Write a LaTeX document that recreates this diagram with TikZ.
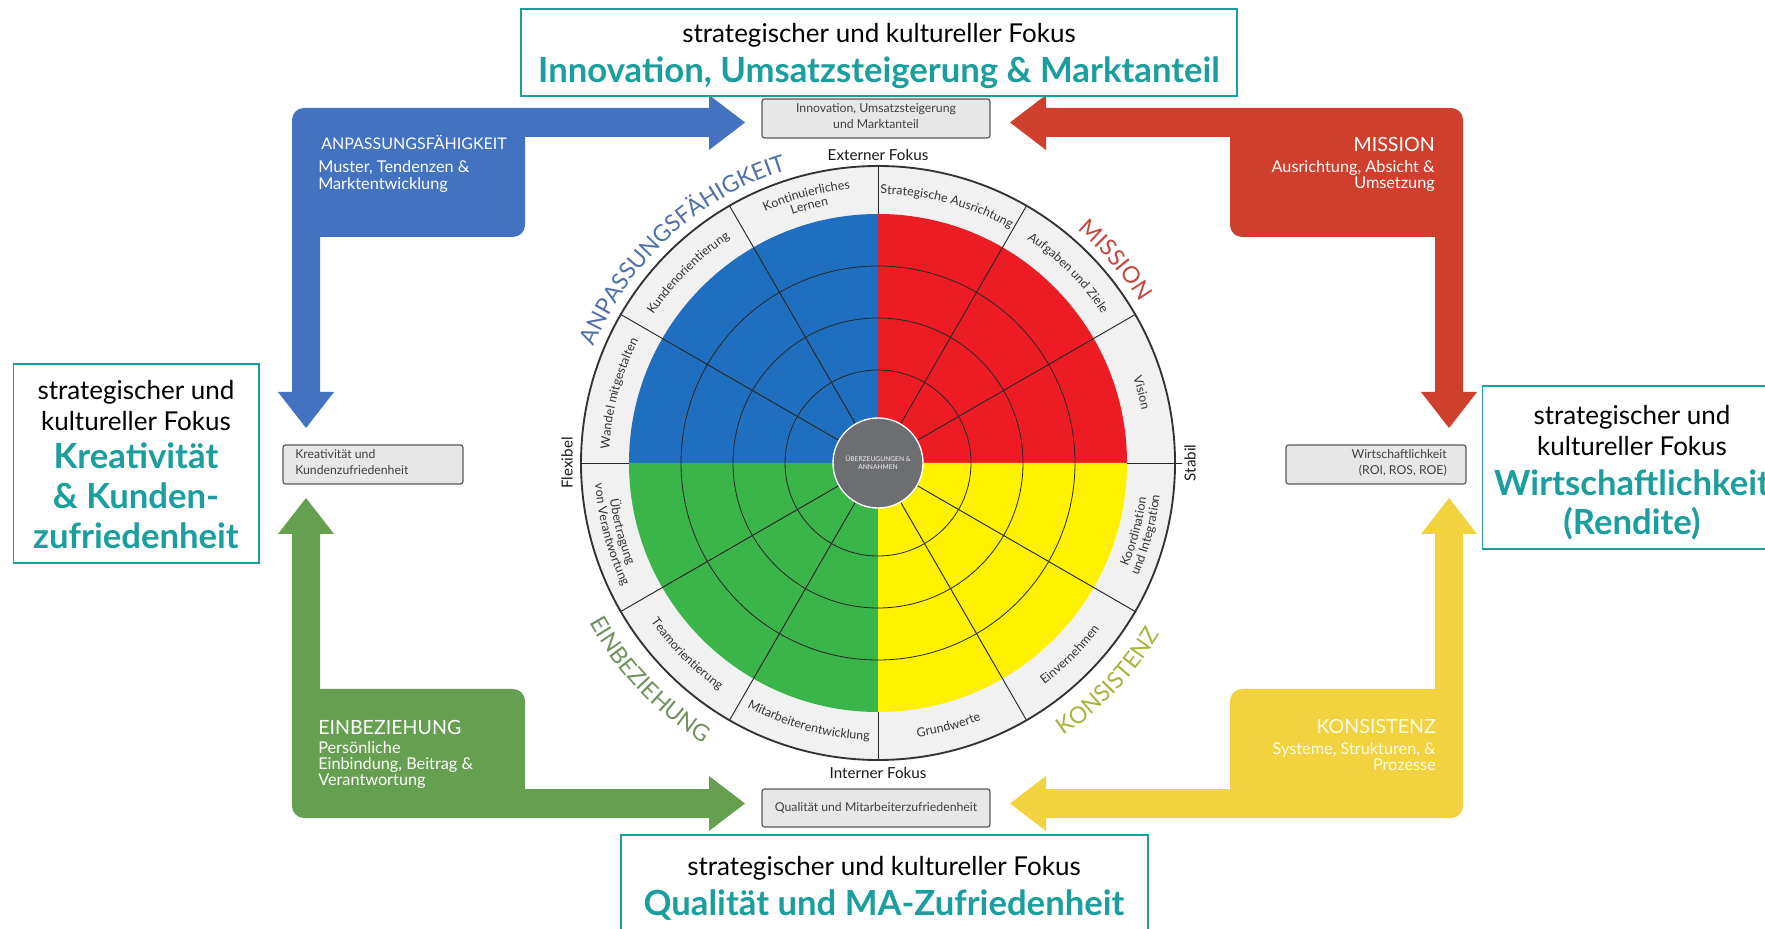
\documentclass[tikz,border=0pt]{standalone}
\usepackage{fontspec}
\setmainfont{Lato}
\usetikzlibrary{decorations.text}
\definecolor{qblue}{HTML}{1F6EC0}
\definecolor{qred}{HTML}{ED1C24}
\definecolor{qyellow}{HTML}{FFF200}
\definecolor{qgreen}{HTML}{39B54A}
\definecolor{ringfill}{HTML}{F1F1F2}
\definecolor{armblue}{HTML}{4272C0}
\definecolor{armred}{HTML}{D03E2D}
\definecolor{armgreen}{HTML}{64A04F}
\definecolor{armyellow}{HTML}{F3D23F}
\definecolor{tealc}{HTML}{1A9E9E}
\definecolor{lblblue}{HTML}{5070AA}
\definecolor{lblred}{HTML}{C4473A}
\definecolor{lblolive}{HTML}{A8B43C}
\definecolor{lblgreen}{HTML}{72915F}
\definecolor{boxfill}{HTML}{E7E7E7}
\definecolor{boxline}{HTML}{595959}
\definecolor{centergray}{HTML}{6D6E71}
\definecolor{ringtext}{HTML}{333333}
\newcommand\ringfont{\fontsize{9.3}{10}\selectfont\color{ringtext}}
\newcommand\quadfont{\fontsize{17.3}{20}\selectfont}
\newcommand\rlabtop[3]{\path[decorate,decoration={text along path,text align=center,text={|\ringfont|#3}}] (#1+45:#2) arc[start angle=#1+45,end angle=#1-45,radius=#2];}
\newcommand\rlabbot[3]{\path[decorate,decoration={text along path,text align=center,text={|\ringfont|#3}}] (#1-45:#2) arc[start angle=#1-45,end angle=#1+45,radius=#2];}
\newcommand\qlabtop[4]{\path[decorate,decoration={text along path,text align=center,text={|\quadfont\color{#3}|#4}}] (#1+60:#2) arc[start angle=#1+60,end angle=#1-60,radius=#2];}
\newcommand\qlabbot[4]{\path[decorate,decoration={text along path,text align=center,text={|\quadfont\color{#3}|#4}}] (#1-60:#2) arc[start angle=#1-60,end angle=#1+60,radius=#2];}
\begin{document}
\begin{tikzpicture}[x=0.75pt,y=0.75pt,
  tealbox/.style={draw=tealc,line width=1.2pt},
  tealreg/.style={font=\fontsize{19.5}{24}\selectfont,text=black,anchor=base,inner sep=0pt},
  tealbold/.style={font=\fontsize{26}{30}\selectfont\bfseries,text=tealc,anchor=base,inner sep=0pt},
  graybox/.style={draw=boxline,fill=boxfill,line width=0.9pt,rounded corners=2pt},
  graytext/.style={font=\fontsize{9.2}{11}\selectfont,text=black!75,inner sep=0pt,anchor=base},
  armtitle/.style={font=\fontsize{14.7}{17}\selectfont,text=white,inner sep=0pt},
  armtext/.style={font=\fontsize{12.2}{14}\selectfont,text=white,inner sep=0pt},
  fokus/.style={font=\fontsize{11.4}{13}\selectfont,text=black!90,inner sep=0pt},
  spoke/.style={draw=black!85,line width=0.7pt},
  ringline/.style={draw=black!85,line width=0.6pt}]
\useasboundingbox (0,0) rectangle (1765,928);
\fill[white] (0,0) rectangle (1765,928);

% L-shaped arrows
\foreach \sx/\sy/\col in {1/1/armblue,-1/1/armred,1/-1/armgreen,-1/-1/armyellow}{
  \begin{scope}[shift={(877.5,465)},xscale=\sx,yscale=\sy,shift={(-877.5,-465)}]
    \fill[\col] (292,536) -- (292,808) arc[start angle=180,end angle=90,radius=12]
      -- (709,820) -- (709,833) -- (745,805.5) -- (709,778) -- (709,791) -- (525,791)
      -- (525,703) arc[start angle=0,end angle=-90,radius=12]
      -- (320,691) -- (320,536) -- (334,536) -- (306,500) -- (278,536) -- cycle;
  \end{scope}
}

% arm texts
\node[armtitle,anchor=base west,font=\fontsize{12}{14}\selectfont] (tA) at (321,778) {ANPASSUNGSFÄHIGKEIT};
\node[armtext,anchor=base west] (tA1) at (318,755) {Muster, Tendenzen \&};
\node[armtext,anchor=base west] (tA2) at (318,738) {Marktentwicklung};
\node[armtitle,anchor=base east] (tM) at (1435,776) {MISSION};
\node[armtext,anchor=base east] (tM1) at (1435,755) {Ausrichtung, Absicht \&};
\node[armtext,anchor=base east] (tM2) at (1435,739) {Umsetzung};
\node[armtitle,anchor=base west] (tE) at (318,194) {EINBEZIEHUNG};
\node[armtext,anchor=base west] (tE1) at (318,175) {Persönliche};
\node[armtext,anchor=base west] (tE2) at (318,159) {Einbindung, Beitrag \&};
\node[armtext,anchor=base west] (tE3) at (318,143) {Verantwortung};
\node[armtitle,anchor=base east,text=white!90!yellow] (tK) at (1436,195) {KONSISTENZ};
\node[armtext,anchor=base east,text=white!90!yellow] (tK1) at (1436,174) {Systeme, Strukturen, \&};
\node[armtext,anchor=base east,text=white!90!yellow] (tK2) at (1436,158) {Prozesse};

% gray boxes
\node[graybox,minimum width=228*0.75pt,minimum height=39*0.75pt] (bTop) at (876,809.5) {};
\node[graytext] (bTop1) at (876,815) {Innovation, Umsatzsteigerung};
\node[graytext] (bTop2) at (876,799) {und Marktanteil};
\node[graybox,minimum width=228*0.75pt,minimum height=38*0.75pt] (bBot) at (876,120) {};
\node[graytext] (bBot1) at (876,116.5) {Qualität und Mitarbeiterzufriedenheit};
\node[graybox,minimum width=180*0.75pt,minimum height=39*0.75pt] (bLeft) at (373,463.5) {};
\node[graytext,anchor=base west] (bLeft1) at (295,469) {Kreativität und};
\node[graytext,anchor=base west] (bLeft2) at (295,453) {Kundenzufriedenheit};
\node[graybox,minimum width=180*0.75pt,minimum height=39*0.75pt] (bRight) at (1376,463.5) {};
\node[graytext,anchor=base east] (bRight1) at (1447,469) {Wirtschaftlichkeit};
\node[graytext,anchor=base east] (bRight2) at (1447,453) {(ROI, ROS, ROE)};

% wheel
\begin{scope}[shift={(878,465)}]
  \coordinate (C) at (0,0);
  \fill[ringfill] (C) circle[radius=297];
  \fill[qred] (C) -- (0:249) arc[start angle=0,end angle=90,radius=249] -- cycle;
  \fill[qblue] (C) -- (90:249) arc[start angle=90,end angle=180,radius=249] -- cycle;
  \fill[qgreen] (C) -- (180:249) arc[start angle=180,end angle=270,radius=249] -- cycle;
  \fill[qyellow] (C) -- (270:249) arc[start angle=270,end angle=360,radius=249] -- cycle;
  \foreach \r in {93,145,197} \draw[ringline] (C) circle[radius=\r];
  \foreach \a in {30,60,120,150,210,240,300,330} \draw[spoke] (\a:45) -- (\a:297);
  \foreach \a in {0,90,180,270} \draw[spoke] (\a:249) -- (\a:297);
  \draw[spoke] (0:297) -- (0:304);
  \draw[draw=black!80,line width=1.4pt] (C) circle[radius=297];
  \node[circle,fill=centergray,draw=white,line width=1pt,minimum size=90*0.75pt,inner sep=0pt] (core) at (C) {};
  \node[align=center,text=white!90!gray,font=\fontsize{5}{6}\selectfont,inner sep=0pt] (coretext) at (C) {ÜBERZEUGUNGEN \&\\ANNAHMEN};
  % ring labels
  \rlabtop{105}{275.5}{Kontinuierliches}
  \rlabtop{105}{262.5}{Lernen}
  \rlabtop{135}{269}{Kundenorientierung}
  \rlabtop{165}{269}{Wandel mitgestalten}
  \rlabtop{75}{269}{Strategische Ausrichtung}
  \rlabtop{45}{269}{Aufgaben und Ziele}
  \rlabtop{15}{269}{Vision}
  \rlabbot{-15}{270.5}{Koordination}
  \rlabbot{-15}{283.5}{und Integration}
  \rlabbot{-45}{277}{Einvernehmen}
  \rlabbot{-75}{277}{Grundwerte}
  \rlabbot{-105}{277}{Mitarbeiterentwicklung}
  \rlabbot{-135}{277}{Teamorientierung}
  \rlabbot{-165}{270.5}{Übertragung}
  \rlabbot{-165}{283.5}{von Verantwortung}
  % quadrant labels
  \qlabtop{132.5}{307}{lblblue}{ANPASSUNGSFÄHIGKEIT}
  \qlabtop{40.5}{307}{lblred}{MISSION}
  \qlabbot{-43.5}{330}{lblolive}{KONSISTENZ}
  \qlabbot{-136.5}{330}{lblgreen}{EINBEZIEHUNG}
\end{scope}
\node[fokus] (ext) at (878,773) {Externer Fokus};
\node[fokus] (int) at (878,155) {Interner Fokus};
\node[fokus,rotate=90] (flex) at (567,465) {Flexibel};
\node[fokus,rotate=90] (stab) at (1190,465) {Stabil};

% teal boxes
\draw[tealbox] (521,832) rectangle (1237,919);
\node[tealreg] (tt1) at (879,885.5) {strategischer und kultureller Fokus};
\node[tealbold] (tt2) at (879,845) {Innovation, Umsatzsteigerung \& Marktanteil};
\draw[tealbox] (13.5,365) rectangle (259,564);
\node[tealreg] (tl1) at (136,528.5) {strategischer und};
\node[tealreg] (tl2) at (136,497.5) {kultureller Fokus};
\node[tealbold] (tl3) at (136,459.5) {Kreativität};
\node[tealbold] (tl4) at (136,419.5) {\& Kunden-};
\node[tealbold] (tl5) at (136,379.5) {zufriedenheit};
\draw[tealbox] (1482.5,379) rectangle (1790,542);
\node[tealreg] (tr1) at (1632,503.5) {strategischer und};
\node[tealreg] (tr2) at (1632,472.5) {kultureller Fokus};
\node[tealbold] (tr3) at (1632,432.5) {Wirtschaftlichkeit};
\node[tealbold] (tr4) at (1632,393.5) {(Rendite)};
\draw[tealbox] (621,-20) rectangle (1148,93);
\node[tealreg] (tb1) at (884,53) {strategischer und kultureller Fokus};
\node[tealbold] (tb2) at (884,13) {Qualität und MA-Zufriedenheit};
\end{tikzpicture}
\end{document}
